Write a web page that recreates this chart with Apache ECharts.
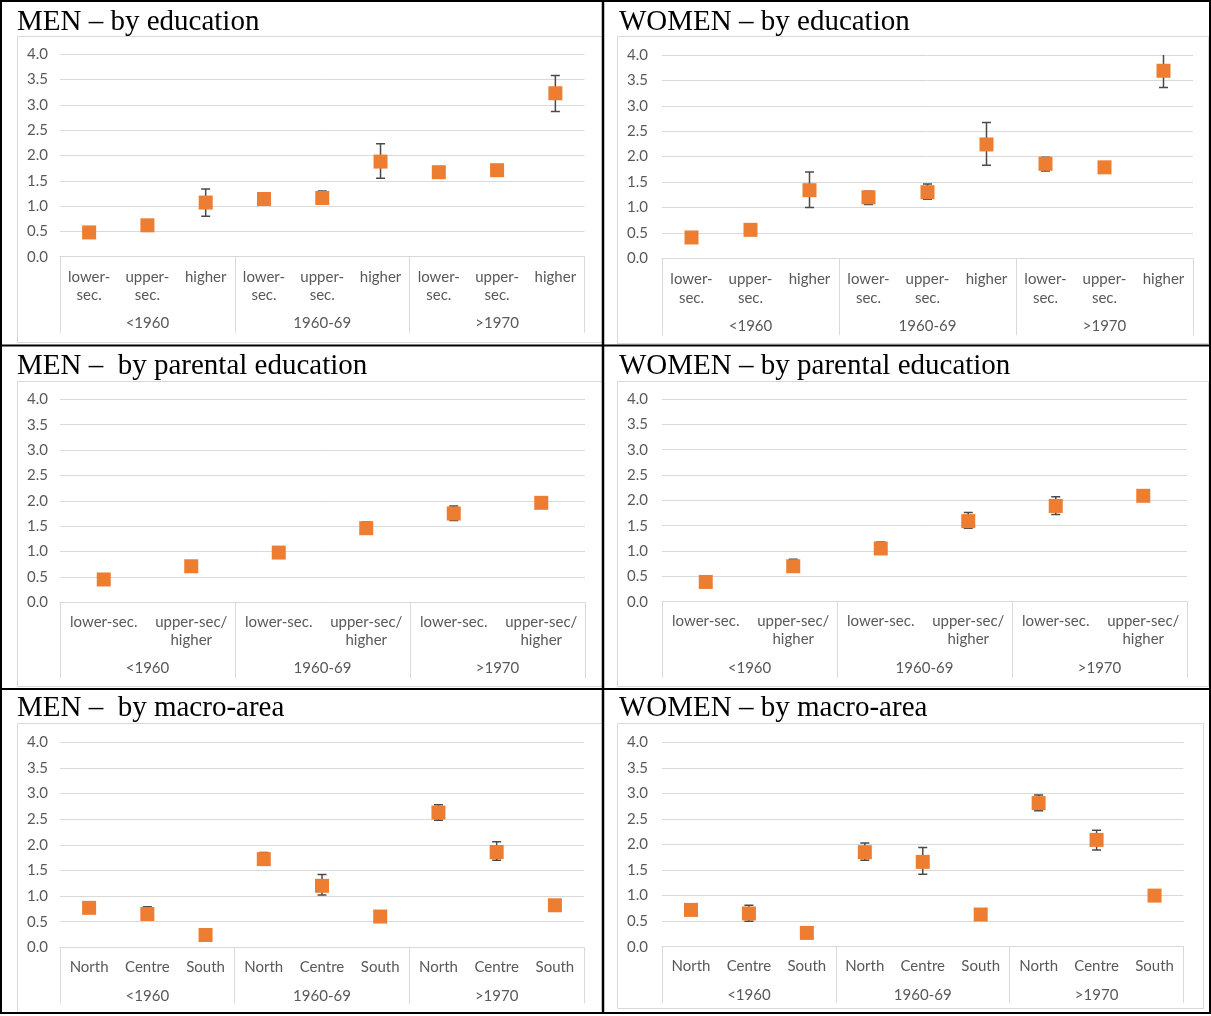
<!DOCTYPE html>
<html>
<head>
<meta charset="utf-8">
<script src="https://cdn.jsdelivr.net/npm/echarts@6/dist/echarts.min.js"></script>
<style>
html,body{margin:0;padding:0;background:#fff;}
#c{width:1211px;height:1016px;}
</style>
</head>
<body>
<div id="c"></div>
<script>
// ---- data ----
const cohorts = ['<1960', '1960-69', '>1970'];
const eduCats = ['lower-\nsec.', 'upper-\nsec.', 'higher', 'lower-\nsec.', 'upper-\nsec.', 'higher', 'lower-\nsec.', 'upper-\nsec.', 'higher'];
const parCats = ['lower-sec.', 'upper-sec/\nhigher', 'lower-sec.', 'upper-sec/\nhigher', 'lower-sec.', 'upper-sec/\nhigher'];
const areaCats = ['North', 'Centre', 'South', 'North', 'Centre', 'South', 'North', 'Centre', 'South'];
const yTicks = [0, 0.5, 1, 1.5, 2, 2.5, 3, 3.5, 4];

const menEdu      = [0.48, 0.62, 1.07, 1.14, 1.16, 1.88, 1.67, 1.71, 3.23];
const menEduLow   = [null, null, 0.80, null, 1.04, 1.55, null, null, 2.87];
const menEduHigh  = [null, null, 1.34, null, 1.30, 2.23, null, null, 3.58];

const womenEdu     = [0.41, 0.56, 1.34, 1.20, 1.30, 2.24, 1.86, 1.79, 3.69];
const womenEduLow  = [null, null, 1.00, 1.06, 1.16, 1.83, 1.72, null, 3.36];
const womenEduHigh = [null, null, 1.70, 1.32, 1.46, 2.67, 1.99, null, 4.05];

const menPar     = [0.45, 0.71, 0.98, 1.46, 1.75, 1.96];
const menParLow  = [null, null, null, 1.36, 1.61, null];
const menParHigh = [null, null, null, 1.58, 1.90, null];

const womenPar     = [0.39, 0.70, 1.05, 1.59, 1.89, 2.09];
const womenParLow  = [null, 0.60, 0.95, 1.45, 1.72, null];
const womenParHigh = [null, 0.84, 1.18, 1.76, 2.07, null];

const menArea     = [0.77, 0.65, 0.24, 1.72, 1.20, 0.60, 2.63, 1.86, 0.82];
const menAreaLow  = [null, 0.55, null, 1.62, 1.02, null, 2.48, 1.70, null];
const menAreaHigh = [null, 0.79, null, 1.85, 1.42, null, 2.78, 2.06, null];

const womenArea     = [0.72, 0.65, 0.27, 1.85, 1.66, 0.63, 2.81, 2.09, 1.00];
const womenAreaLow  = [null, 0.50, null, 1.69, 1.42, null, 2.66, 1.89, null];
const womenAreaHigh = [null, 0.81, null, 2.03, 1.94, null, 2.97, 2.28, null];

const titles = ['MEN \u2013 by education', 'WOMEN \u2013 by education',
                'MEN \u2013  by parental education', 'WOMEN \u2013 by parental education',
                'MEN \u2013  by macro-area', 'WOMEN \u2013 by macro-area'];

// ---- layout ----
const panels = [
  {cats: eduCats, v: menEdu, lo: menEduLow, hi: menEduHigh,
   grid: {left: 60, top: 54.3, width: 524.5, height: 202.4}, ym: 12, im: 11, gm: 57, tick: 76, lh: 18,
   title: {x: 17, y: 22}, box: [17, 36, 602, 342]},
  {cats: eduCats, v: womenEdu, lo: womenEduLow, hi: womenEduHigh,
   grid: {left: 662, top: 55, width: 531, height: 203.3}, ym: 14, im: 11, gm: 59, tick: 77, lh: 19,
   title: {x: 619, y: 22}, box: [617, 36, 1208, 343]},
  {cats: parCats, v: menPar, lo: menParLow, hi: menParHigh,
   grid: {left: 60, top: 399.3, width: 525, height: 203}, ym: 12, im: 10.5, gm: 56.5, tick: 76, lh: 18,
   title: {x: 17, y: 366.5}, box: [17, 381, 602, 686]},
  {cats: parCats, v: womenPar, lo: womenParLow, hi: womenParHigh,
   grid: {left: 662, top: 399, width: 525, height: 202.7}, ym: 14, im: 10.5, gm: 57, tick: 76, lh: 18,
   title: {x: 619, y: 366.5}, box: [617, 381, 1208, 686]},
  {cats: areaCats, v: menArea, lo: menAreaLow, hi: menAreaHigh,
   grid: {left: 60, top: 742.3, width: 524, height: 205}, ym: 12, im: 10.5, gm: 39.5, tick: 56, lh: 18,
   title: {x: 17, y: 708.5}, box: [17, 723, 602, 1012]},
  {cats: areaCats, v: womenArea, lo: womenAreaLow, hi: womenAreaHigh,
   grid: {left: 662, top: 742.3, width: 521.5, height: 204.4}, ym: 14, im: 10.5, gm: 39.5, tick: 56, lh: 18,
   title: {x: 619, y: 708.5}, box: [617, 723, 1203, 1008]}
];

const FONT = 'Lato, "Liberation Sans", sans-serif';
const grids = [], xAxes = [], yAxes = [], series = [], graphics = [];

panels.forEach((p, k) => {
  grids.push(Object.assign({show: false}, p.grid));
  // item axis
  xAxes.push({
    type: 'category', gridIndex: k, position: 'bottom', data: p.cats, boundaryGap: true,
    axisLine: {show: true, lineStyle: {color: '#D9D9D9', width: 1}},
    axisTick: {show: false},
    axisLabel: {interval: 0, color: '#595959', fontSize: 15, fontFamily: FONT, lineHeight: p.lh, margin: p.im}
  });
  // group axis
  xAxes.push({
    type: 'category', gridIndex: k, position: 'bottom', data: cohorts, boundaryGap: true,
    axisLine: {show: false},
    axisTick: {show: true, length: p.tick, alignWithLabel: false, interval: 0, lineStyle: {color: '#D9D9D9', width: 1}},
    axisLabel: {interval: 0, color: '#595959', fontSize: 15, fontFamily: FONT, lineHeight: 18, margin: p.gm}
  });
  yAxes.push({
    type: 'value', gridIndex: k, min: yTicks[0], max: yTicks[yTicks.length - 1], interval: 0.5,
    axisLine: {show: false}, axisTick: {show: false},
    splitLine: {show: true, lineStyle: {color: '#D9D9D9', width: 1}},
    axisLabel: {color: '#595959', fontSize: 15, fontFamily: FONT, margin: p.ym, formatter: v => v.toFixed(1)}
  });
  const errData = [];
  p.v.forEach((v, i) => { if (p.lo[i] != null) errData.push([i, p.lo[i], p.hi[i]]); });
  series.push({
    type: 'custom', xAxisIndex: 2 * k, yAxisIndex: k, clip: true, z: 2, silent: true,
    encode: {x: 0, y: [1, 2]},
    data: errData,
    renderItem: function (params, api) {
      const x = api.value(0), lo = api.value(1), hi = api.value(2);
      const a = api.coord([x, lo]), b = api.coord([x, hi]);
      const w = 4.5;
      const st = {stroke: '#4a4a4a', lineWidth: 1.5};
      return {type: 'group', children: [
        {type: 'line', shape: {x1: a[0], y1: a[1], x2: b[0], y2: b[1]}, style: st},
        {type: 'line', shape: {x1: a[0] - w, y1: a[1], x2: a[0] + w, y2: a[1]}, style: st},
        {type: 'line', shape: {x1: b[0] - w, y1: b[1], x2: b[0] + w, y2: b[1]}, style: st}
      ]};
    }
  });
  series.push({
    type: 'scatter', xAxisIndex: 2 * k, yAxisIndex: k, z: 3, silent: true,
    symbol: 'rect', symbolSize: 14,
    itemStyle: {color: '#ED7D31', opacity: 1},
    data: p.v.map((v, i) => [i, v])
  });
  // panel box
  const bx = p.box;
  graphics.push({type: 'rect', z: 0, shape: {x: bx[0] + 0.5, y: bx[1] + 0.5, width: bx[2] - bx[0], height: bx[3] - bx[1]},
                 style: {fill: null, stroke: '#D9D9D9', lineWidth: 1}});
  graphics.push({type: 'text', z: 5, x: p.title.x, y: p.title.y,
                 style: {text: titles[k], font: '29px "Liberation Serif", "Times New Roman", serif', fill: '#000', verticalAlign: 'middle', align: 'left'}});
});

// table borders
graphics.push({type: 'rect', z: 10, shape: {x: 1, y: 1, width: 1209, height: 1012}, style: {fill: null, stroke: '#000', lineWidth: 2}});
graphics.push({type: 'line', z: 10, shape: {x1: 603, y1: 1, x2: 603, y2: 1013}, style: {stroke: '#000', lineWidth: 2.5}});
graphics.push({type: 'line', z: 10, shape: {x1: 1, y1: 345.5, x2: 1210, y2: 345.5}, style: {stroke: '#000', lineWidth: 2}});
graphics.push({type: 'line', z: 10, shape: {x1: 1, y1: 689, x2: 1210, y2: 689}, style: {stroke: '#000', lineWidth: 2}});

const chart = echarts.init(document.getElementById('c'), null, {renderer: 'canvas'});
chart.setOption({
  animation: false,
  backgroundColor: '#fff',
  grid: grids,
  xAxis: xAxes,
  yAxis: yAxes,
  series: series,
  graphic: graphics
});
</script>
</body>
</html>
